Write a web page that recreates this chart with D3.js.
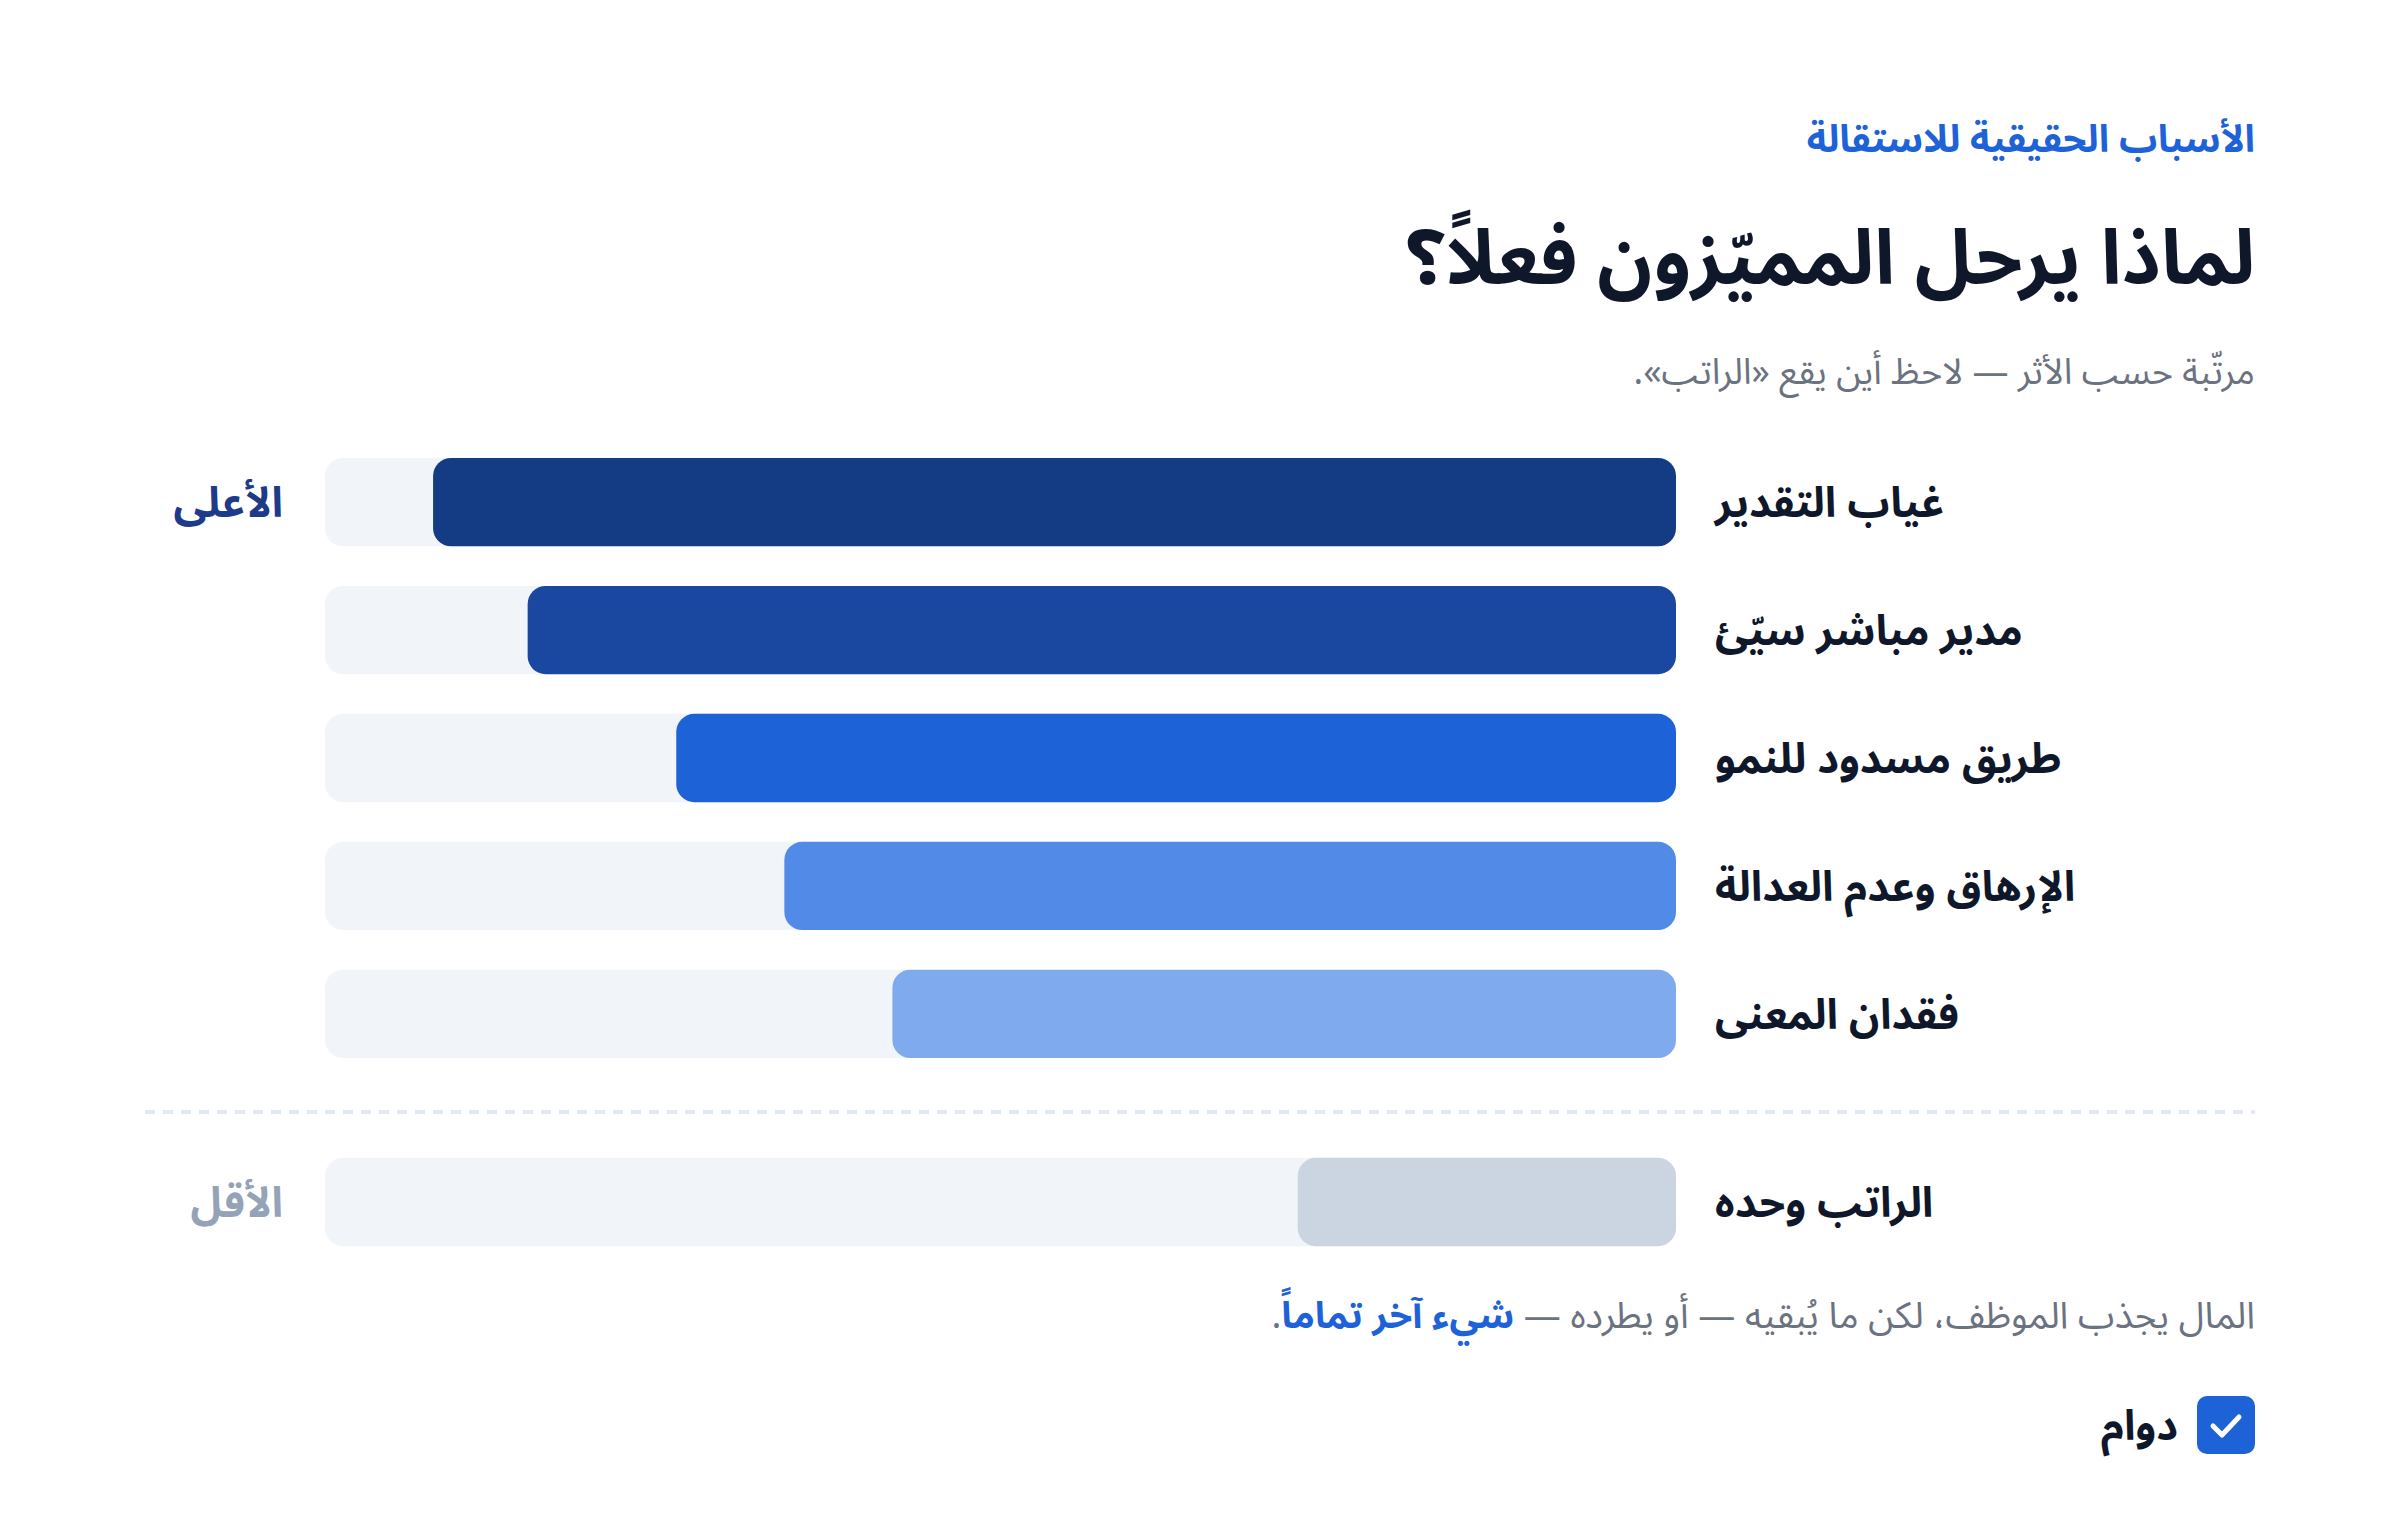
<!DOCTYPE html>
<html lang="ar" dir="rtl">
<head>
<meta charset="utf-8">
<script src="https://cdn.jsdelivr.net/npm/d3@7"></script>
<style>
  body { margin: 0; background: #fff; }
  svg text { font-family: "Noto Sans Arabic", "Noto Sans", "DejaVu Sans", sans-serif; }
</style>
</head>
<body>
<div id="chart"></div>
<script>
const w = 2400;
const h = 1520;

const reasons = ["غياب التقدير", "مدير مباشر سيّئ", "طريق مسدود للنمو", "الإرهاق وعدم العدالة", "فقدان المعنى"];
const impact = [92, 85, 74, 66, 58];
const colors = ["#133c85", "#1a47a0", "#1e62d8", "#528ae8", "#80aaee"];
const salaryLabel = "الراتب وحده";
const salaryImpact = 28;

const svg = d3.select("#chart").append("svg")
  .attr("width", w).attr("height", h);

// scales
const x = d3.scaleLinear().domain([0, 100]).range([1676, 325]);
const y = d3.scaleBand().domain(reasons).range([458, 1058]).paddingInner(0.31).paddingOuter(0);
const barH = y.bandwidth();
const salaryY = 1202 - barH / 2;

// header
svg.append("text").attr("x", 2255).attr("y", 152).attr("text-anchor", "start")
  .attr("fill", "#1e62d8").attr("font-size", 38).attr("font-weight", 700)
  .text("الأسباب الحقيقية للاستقالة");
svg.append("text").attr("x", 2255).attr("y", 284).attr("text-anchor", "start")
  .attr("fill", "#0f172a").attr("font-size", 76).attr("font-weight", 700)
  .text("لماذا يرحل المميّزون فعلاً؟");
svg.append("text").attr("x", 2255).attr("y", 384).attr("text-anchor", "start")
  .attr("fill", "#6b7280").attr("font-size", 36)
  .text("مرتّبة حسب الأثر — لاحظ أين يقع «الراتب».");

// tracks + bars
const rows = svg.append("g");
rows.selectAll("rect.track").data(reasons).enter().append("rect")
  .attr("class", "track")
  .attr("x", x(100)).attr("width", x(0) - x(100))
  .attr("y", d => y(d)).attr("height", barH)
  .attr("rx", 18).attr("fill", "#f1f4f9");
rows.selectAll("rect.bar").data(reasons).enter().append("rect")
  .attr("class", "bar")
  .attr("x", (d, i) => x(impact[i])).attr("width", (d, i) => x(0) - x(impact[i]))
  .attr("y", d => y(d)).attr("height", barH)
  .attr("rx", 18).attr("fill", (d, i) => colors[i]);
rows.selectAll("text.lab").data(reasons).enter().append("text")
  .attr("class", "lab")
  .attr("x", 1715).attr("y", d => y(d) + barH / 2)
  .attr("dy", "0.35em").attr("text-anchor", "end")
  .attr("fill", "#0f172a").attr("font-size", 42).attr("font-weight", 700)
  .text(d => d);

svg.append("text").attr("x", 283).attr("y", y(reasons[0]) + barH / 2).attr("dy", "0.35em")
  .attr("text-anchor", "start").attr("fill", "#1e3a8a").attr("font-size", 42).attr("font-weight", 700)
  .text("الأعلى");

// divider
svg.append("line").attr("x1", 145).attr("x2", 2255).attr("y1", 1112).attr("y2", 1112)
  .attr("stroke", "#e2e8f0").attr("stroke-width", 4).attr("stroke-dasharray", "10 8");

// salary row
svg.append("rect").attr("x", x(100)).attr("width", x(0) - x(100))
  .attr("y", salaryY).attr("height", barH).attr("rx", 18).attr("fill", "#f1f4f9");
svg.append("rect").attr("x", x(salaryImpact)).attr("width", x(0) - x(salaryImpact))
  .attr("y", salaryY).attr("height", barH).attr("rx", 18).attr("fill", "#cbd5e1");
svg.append("text").attr("x", 1715).attr("y", 1202).attr("dy", "0.35em").attr("text-anchor", "end")
  .attr("fill", "#0f172a").attr("font-size", 42).attr("font-weight", 700).text(salaryLabel);
svg.append("text").attr("x", 283).attr("y", 1202).attr("dy", "0.35em").attr("text-anchor", "start")
  .attr("fill", "#94a3b8").attr("font-size", 42).attr("font-weight", 700).text("الأقل");

// footnote
const foot = svg.append("text").attr("x", 2255).attr("y", 1328).attr("text-anchor", "start")
  .attr("fill", "#6b7280").attr("font-size", 37);
foot.append("tspan").text("المال يجذب الموظف، لكن ما يُبقيه — أو يطرده — ");
foot.append("tspan").attr("fill", "#1e62d8").attr("font-weight", 700).text("شيء آخر تماماً");
foot.append("tspan").text(".");

// legend
svg.append("rect").attr("x", 2197).attr("y", 1396).attr("width", 58).attr("height", 58)
  .attr("rx", 10).attr("fill", "#1e62d8");
svg.append("path").attr("d", "M2213,1426 L2222,1435 L2239,1417")
  .attr("fill", "none").attr("stroke", "#fff").attr("stroke-width", 5)
  .attr("stroke-linecap", "round").attr("stroke-linejoin", "round");
svg.append("text").attr("x", 2178).attr("y", 1425).attr("dy", "0.35em").attr("text-anchor", "start")
  .attr("fill", "#0f172a").attr("font-size", 42).attr("font-weight", 700).text("دوام");
</script>
</body>
</html>
